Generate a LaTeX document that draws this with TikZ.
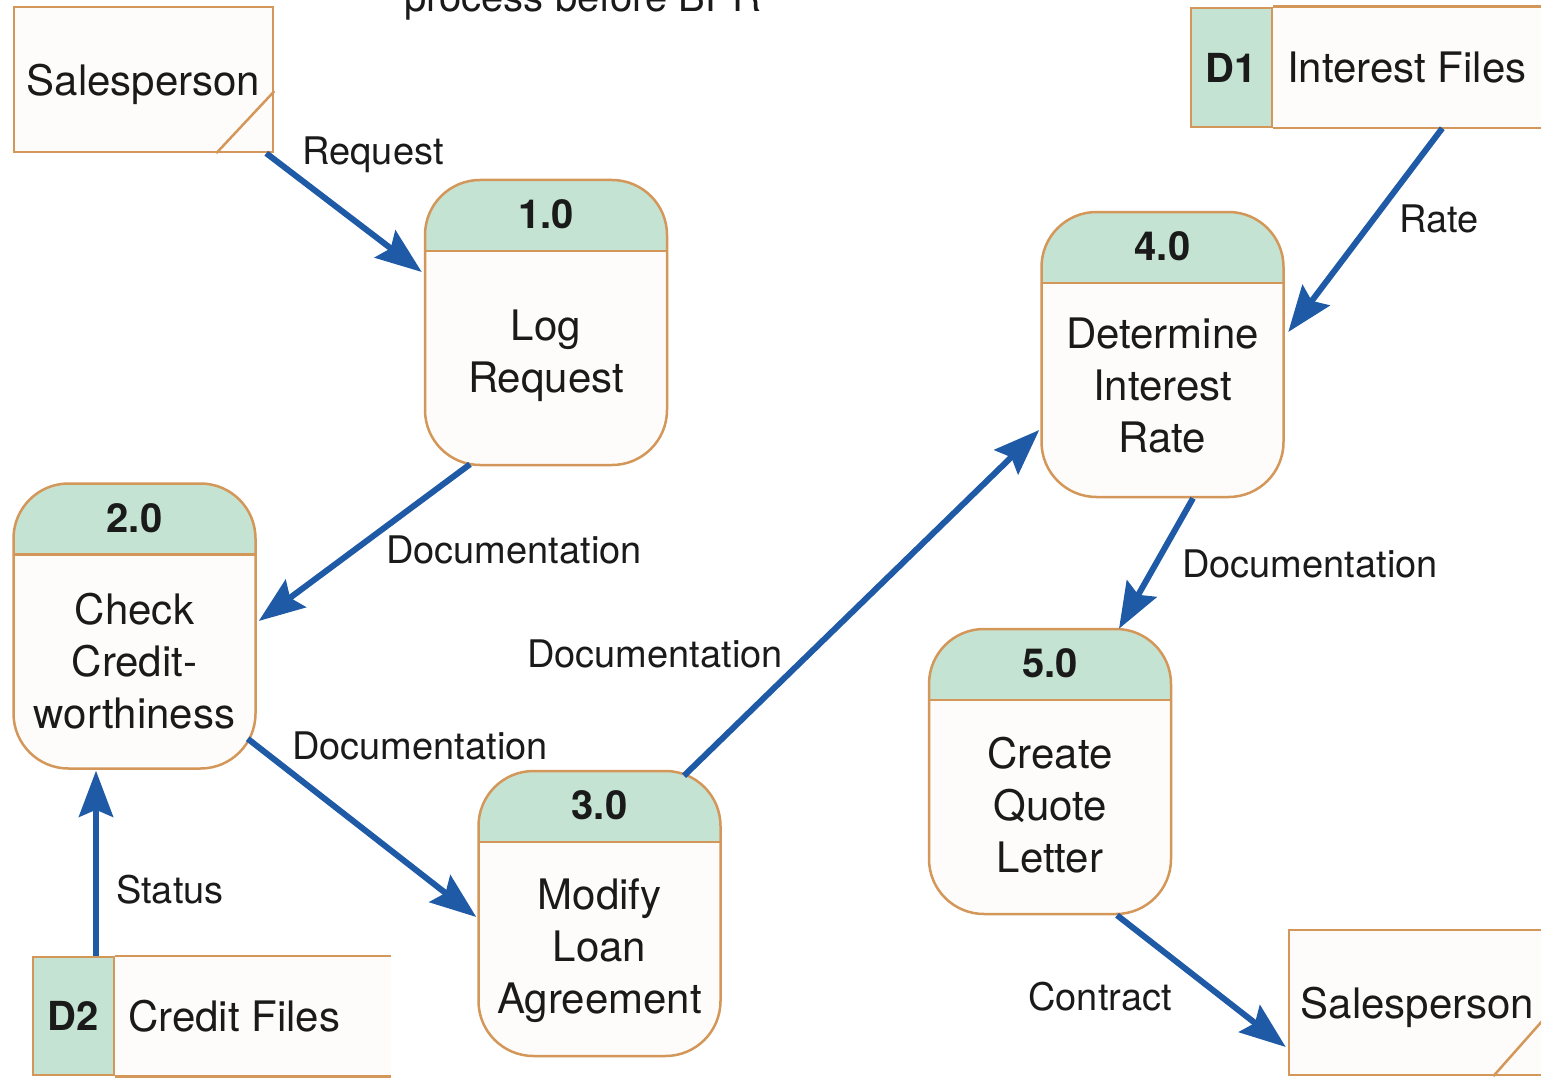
\documentclass[tikz,border=0pt]{standalone}
\usepackage{fontspec}
\setmainfont{TeX Gyre Heros}
\usetikzlibrary{arrows.meta,calc}
\definecolor{edgec}{HTML}{D4975A}
\definecolor{headc}{HTML}{C5E3D3}
\definecolor{bodyc}{HTML}{FEFCFA}
\definecolor{flowc}{HTML}{1F5AA6}
\definecolor{txtc}{HTML}{1A1A1A}
\begin{document}
\begin{tikzpicture}[x=1pt,y=-1pt,
  every node/.style={text=txtc},
  proc/.style={draw=edgec, line width=2.5pt, fill=bodyc, rounded corners=55pt,
    minimum width=242pt, minimum height=285pt, inner sep=0pt,
    path picture={
      \fill[headc, sharp corners] (path picture bounding box.north west) rectangle ($(path picture bounding box.north east)+(0,71)$);
      \draw[edgec, line width=2.5pt, sharp corners] ($(path picture bounding box.north west)+(0,71)$) -- ($(path picture bounding box.north east)+(0,71)$);}},
  numtxt/.style={font=\fontsize{40}{48}\selectfont\bfseries, inner sep=0pt},
  bodytxt/.style={font=\fontsize{42}{52}\selectfont, align=center, inner sep=0pt},
  ext/.style={draw=edgec, line width=2.5pt, fill=bodyc, inner sep=0pt,
    text depth=0pt, font=\fontsize{42}{50}\selectfont},
  storeid/.style={draw=edgec, line width=2.5pt, fill=headc, inner sep=0pt,
    minimum width=81pt, minimum height=119pt, font=\fontsize{40}{48}\selectfont\bfseries},
  storetxt/.style={font=\fontsize{42}{50}\selectfont, anchor=west, inner sep=0pt},
  storeline/.style={draw=edgec, line width=2.5pt},
  lbl/.style={font=\fontsize{38}{46}\selectfont, anchor=base, inner sep=0pt},
  flow/.style={draw=flowc, line width=6pt, -{Stealth[length=46pt,width=34pt,inset=7pt]}}
]
\clip (0,0) rectangle (1541,1078);
\fill[white] (0,0) rectangle (1541,1078);

% title (cut at top, as in the reference)
\node[font=\fontsize{40}{48}\selectfont, anchor=base, inner sep=0pt] (title) at (582.5,12) {process before BPR};

% external entities
\node[ext, minimum width=259pt, minimum height=145pt] (sp1) at (143.5,79.5) {Salesperson};
\draw[storeline] ($(sp1.south east)+(0,-62)$) -- ($(sp1.south east)+(-58,0)$);
\node[ext, minimum width=257pt, minimum height=145pt] (sp2) at (1417.5,1002.5) {Salesperson};
\draw[storeline] ($(sp2.south east)+(0,-61)$) -- ($(sp2.south east)+(-54,0)$);

% data stores
\node[storeid] (d1) at (1231.5,67.5) {D1};
\fill[bodyc] (d1.north east) rectangle ($(d1.south east)+(275,0)$);
\draw[storeline] (d1.north east) -- ++(275,0);
\draw[storeline] (d1.south east) -- ++(275,0);
\node[storetxt] (d1t) at (1287,68) {Interest Files};

\node[storeid, minimum height=118pt] (d2) at (73.5,1016) {D2};
\fill[bodyc] (d2.north east) rectangle ($(d2.south east)+(276,0)$);
\draw[storeline] (d2.north east) -- ++(276,0);
\draw[storeline] (d2.south east) -- ++(276,0);
\node[storetxt] (d2t) at (128,1016) {Credit Files};

% processes
\node[proc] (p1) at (546,322.5) {};
\node[numtxt] (n1) at ($(p1.north)+(0,35.5)$) {1.0};
\node[bodytxt] (t1) at ($(p1.center)+(0,33)$) {Log\\Request};

\node[proc] (p2) at (134.5,626) {};
\node[numtxt] (n2) at ($(p2.north)+(0,35.5)$) {2.0};
\node[bodytxt] (t2) at ($(p2.center)+(0,35.5)$) {Check\\Credit-\\worthiness};

\node[proc] (p3) at (599.5,913.5) {};
\node[numtxt] (n3) at ($(p3.north)+(0,35.5)$) {3.0};
\node[bodytxt] (t3) at ($(p3.center)+(0,37)$) {Modify\\Loan\\Agreement};

\node[proc] (p4) at (1162.5,354.5) {};
\node[numtxt] (n4) at ($(p4.north)+(0,35.5)$) {4.0};
\node[bodytxt] (t4) at ($(p4.center)+(0,31)$) {Determine\\Interest\\Rate};

\node[proc] (p5) at (1050,771.5) {};
\node[numtxt] (n5) at ($(p5.north)+(0,35.5)$) {5.0};
\node[bodytxt] (t5) at ($(p5.center)+(0,34)$) {Create\\Quote\\Letter};

% flows
\draw[flow] ($(sp1.south east)+(-8,0)$) -- ($(p1.west)+(-2,-50.5)$);
\draw[flow] ($(p1.south)+(-76,-2)$) -- ($(p2.east)+(2,-5)$);
\draw[flow] ($(p2.south east)+(-9,-31)$) -- ($(p3.west)+(-1,3.5)$);
\draw[flow] ($(p3.north)+(84.5,6)$) -- ($(p4.west)+(-1,75.5)$);
\draw[flow] ($(d1.south east)+(169,0)$) -- ($(p4.east)+(3.5,-22.5)$);
\draw[flow] ($(p4.south)+(30.5,0)$) -- ($(p5.north)+(69,1)$);
\draw[flow] ($(p5.south)+(67,0)$) -- ($(sp2.west)+(-2,44.5)$);
\draw[flow] ($(d2.north)+(22.5,0)$) -- ($(p2.south)+(-38.5,1)$);

% labels
\node[lbl] (l1) at (373,165) {Request};
\node[lbl] (l2) at (514,563) {Documentation};
\node[lbl] (l3) at (655,667) {Documentation};
\node[lbl] (l4) at (420,759) {Documentation};
\node[lbl] (l5) at (1439,233) {Rate};
\node[lbl] (l6) at (1310,577) {Documentation};
\node[lbl] (l7) at (1100,1010) {Contract};
\node[lbl] (l8) at (170,903) {Status};
\end{tikzpicture}
\end{document}
